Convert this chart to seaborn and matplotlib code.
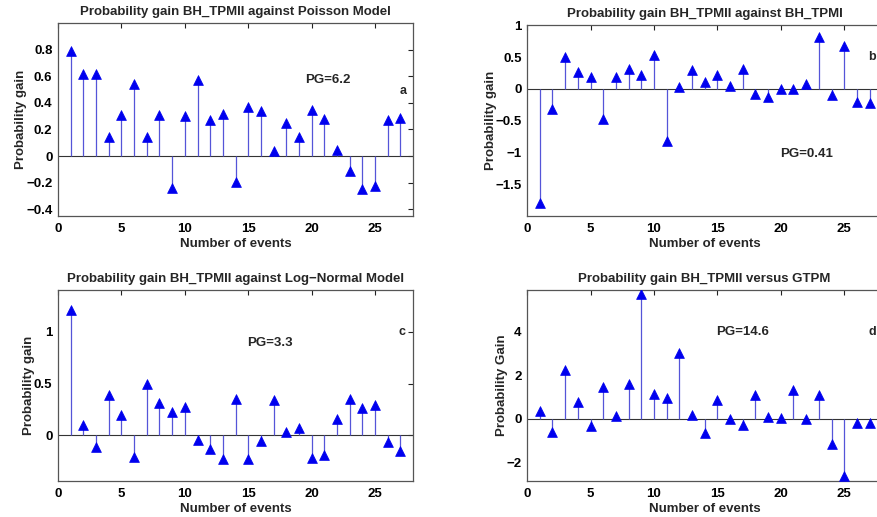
import numpy as np
import pandas as pd
import matplotlib
matplotlib.use("Agg")
import matplotlib.pyplot as plt
import seaborn as sns

events = list(range(1, 28))

gain_poisson = [0.79, 0.62, 0.62, 0.146, 0.31, 0.54, 0.14, 0.31, -0.24, 0.30,
                0.57, 0.27, 0.32, -0.196, 0.37, 0.34, 0.04, 0.25, 0.14, 0.35,
                0.28, 0.045, -0.11, -0.245, -0.225, 0.27, 0.29]
gain_tpmi = [-1.80, -0.31, 0.50, 0.26, 0.18, -0.48, 0.19, 0.31, 0.22, 0.53,
             -0.82, 0.03, 0.29, 0.10, 0.22, 0.04, 0.31, -0.08, -0.13, 0.0,
             0.0, 0.08, 0.82, -0.09, 0.67, -0.20, -0.23]
gain_lognormal = [1.21, 0.097, -0.11, 0.39, 0.20, -0.21, 0.50, 0.31, 0.23, 0.27,
                  -0.045, -0.13, -0.23, 0.35, -0.23, -0.055, 0.34, 0.03, 0.074, -0.216,
                  -0.187, 0.16, 0.35, 0.26, 0.29, -0.065, -0.155]
gain_gtpm = [0.35, -0.61, 2.22, 0.76, -0.33, 1.46, 0.14, 1.61, 5.72, 1.13,
             0.96, 3.00, 0.18, -0.64, 0.88, 0.0, -0.29, 1.08, 0.09, 0.02,
             1.32, -0.02, 1.08, -1.17, -2.62, -0.18, -0.17]

titles = ["Probability gain BH_TPMII against Poisson Model",
          "Probability gain BH_TPMII against BH_TPMI",
          "Probability gain BH_TPMII against Log\u2212Normal Model",
          "Probability gain BH_TPMII versus GTPM"]
ylabels = ["Probability gain", "Probability gain", "Probability gain", "Probability Gain"]
pg_texts = ["PG=6.2", "PG=0.41", "PG=3.3", "PG=14.6"]
panel_tags = ["a", "b", "c", "d"]

sns.set_style("white")
plt.rcParams["font.family"] = ["Liberation Sans", "DejaVu Sans"]
plt.rcParams["font.weight"] = "bold"

fig = plt.figure(figsize=(8.77, 5.17), dpi=100)

positions = [[0.0661, 0.5822, 0.405, 0.3733],
             [0.601, 0.5822, 0.405, 0.369],
             [0.0661, 0.0696, 0.405, 0.369],
             [0.601, 0.0696, 0.405, 0.369]]
ylims = [(-0.45, 1.0), (-2.0, 1.0), (-0.44, 1.4), (-2.85, 5.9)]
yticks = [[-0.4, -0.2, 0, 0.2, 0.4, 0.6, 0.8],
          [-1.5, -1, -0.5, 0, 0.5, 1],
          [0, 0.5, 1],
          [-2, 0, 2, 4]]
ytick_labels = [["\u22120.4", "\u22120.2", "0", "0.2", "0.4", "0.6", "0.8"],
                ["\u22121.5", "\u22121", "\u22120.5", "0", "0.5", "1"],
                ["0", "0.5", "1"],
                ["\u22122", "0", "2", "4"]]
pg_pos = [(21.25, 0.57), (22.0, -1.03), (16.7, 0.89), (17.0, 4.0)]
tag_pos = [(27.2, 0.49), (27.2, 0.5), (27.1, 1.0), (27.2, 4.0)]
series = [gain_poisson, gain_tpmi, gain_lognormal, gain_gtpm]

for i in range(4):
    ax = fig.add_axes(positions[i])
    df = pd.DataFrame({"event": events, "gain": series[i]})
    ax.axhline(0, color="#333333", linewidth=0.8, zorder=1)
    ax.vlines(df["event"], 0, df["gain"], color="#5555d8", linewidth=0.9, zorder=2)
    sns.scatterplot(data=df, x="event", y="gain", marker="^", s=50,
                    color="#0000ee", edgecolor="#0000ee", linewidth=0.5,
                    ax=ax, zorder=3, legend=False)
    ax.set_xlim(0, 28)
    ax.set_ylim(*ylims[i])
    ax.set_xticks([0, 5, 10, 15, 20, 25])
    ax.set_yticks(yticks[i])
    ax.set_yticklabels(ytick_labels[i])
    ax.tick_params(direction="in", length=3.5, width=0.8, labelsize=9.5,
                   top=True, right=True, colors="#222222")
    ax.tick_params(axis="x", pad=5)
    ax.tick_params(axis="y", pad=4)
    for lab in ax.get_xticklabels() + ax.get_yticklabels():
        lab.set_fontweight("bold")
        lab.set_color("black")
    for sp in ax.spines.values():
        sp.set_visible(True)
        sp.set_color("#555555")
        sp.set_linewidth(0.9)
    ax.set_title(titles[i], fontsize=9.5, fontweight="bold", pad=6)
    ax.set_xlabel("Number of events", fontsize=9.5, fontweight="bold", labelpad=2)
    ax.set_ylabel(ylabels[i], fontsize=9.5, fontweight="bold", labelpad=-1)
    ax.text(pg_pos[i][0], pg_pos[i][1], pg_texts[i], ha="center", va="center",
            fontsize=9.5, fontweight="bold")
    ax.text(tag_pos[i][0], tag_pos[i][1], panel_tags[i], ha="center", va="center",
            fontsize=9, fontweight="bold")

fig.savefig("out.png", dpi=100)
